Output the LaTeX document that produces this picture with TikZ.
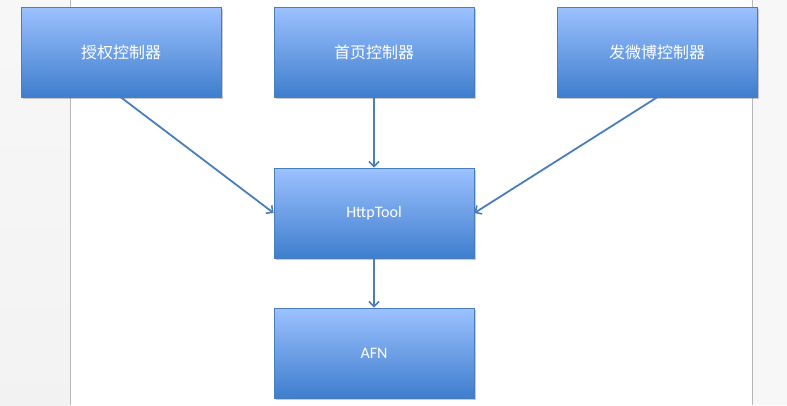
\documentclass[tikz,border=0pt]{standalone}
\usepackage{fontspec}
\setmainfont{Carlito}
\newfontfamily\cjk{Noto Sans CJK SC}
\usetikzlibrary{arrows.meta,shadows}
\definecolor{boxtop}{HTML}{9CC1FF}
\definecolor{boxbot}{HTML}{3E7ECD}
\definecolor{boxline}{HTML}{4A7EBB}
\definecolor{arrowc}{HTML}{4A7EBB}
\tikzset{
  box/.style={rectangle, minimum width=200pt, minimum height=90pt, inner sep=0pt,
    draw=boxline, line width=0.8pt, top color=boxtop, bottom color=boxbot,
    text=white, font=\fontsize{16}{18}\selectfont,
    drop shadow={shadow xshift=1.5pt, shadow yshift=-1.5pt, opacity=0.35, fill=black!60}},
  conn/.style={draw=arrowc, line width=1.8pt, -{Straight Barb[length=5pt,width=10pt,line width=1.6pt]}}
}
\begin{document}
\begin{tikzpicture}[x=1pt,y=-1pt]
\useasboundingbox (0,0) rectangle (787,405);
\shade[top color=black!3, bottom color=black!5, draw=none] (0,0) rectangle (70,405);
\fill[black!3] (752,0) rectangle (787,405);
\draw[black!28, line width=0.8pt] (70.5,0) -- (70.5,405);
\draw[black!28, line width=0.8pt] (752,0) -- (752,405);
\node[box] (auth) at (121,52) {\cjk 授权控制器};
\node[box] (home) at (374,52) {\cjk 首页控制器};
\node[box] (weibo) at (657,52) {\cjk 发微博控制器};
\node[box] (http) at (374,213) {HttpTool};
\node[box] (afn) at (374,353) {AFN};
\draw[conn] (auth.south) -- (http.west);
\draw[conn] (home.south) -- (http.north);
\draw[conn] (weibo.south) -- (http.east);
\draw[conn] (http.south) -- (afn.north);
\end{tikzpicture}
\end{document}
